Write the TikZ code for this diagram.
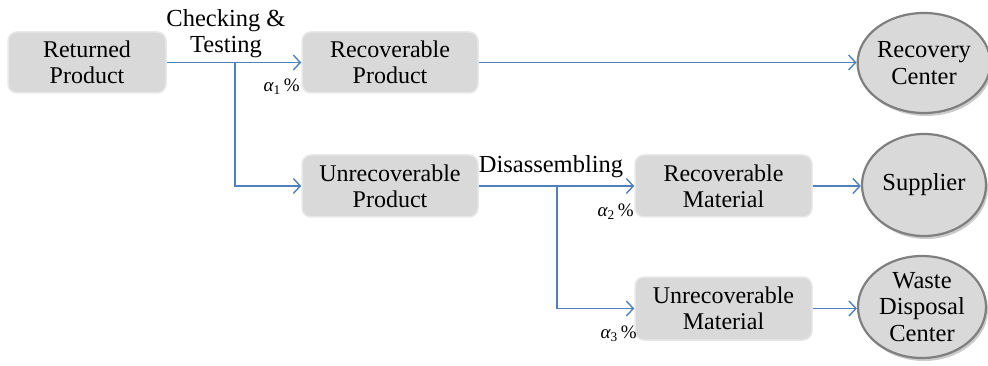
\documentclass[tikz,border=0pt]{standalone}
\usepackage{fontspec}
\setmainfont{Liberation Serif}
\usetikzlibrary{arrows.meta,shapes.geometric,shadows}
\definecolor{boxgray}{HTML}{D9D9D9}
\definecolor{rimgray}{HTML}{E8E8E8}
\definecolor{edgegray}{HTML}{7F7F7F}
\definecolor{flowblue}{HTML}{4F81BD}

\begin{document}
\begin{tikzpicture}[x=1pt,y=-1pt,
  stage/.style={rectangle, rounded corners=9pt, fill=boxgray, draw=rimgray,
    line width=1.5pt, align=center, inner sep=0pt,
    font=\fontsize{24}{26}\selectfont},
  sink/.style={ellipse, fill=boxgray, draw=edgegray, line width=2.2pt,
    align=center, inner sep=0pt, font=\fontsize{24.5}{26.5}\selectfont,
    drop shadow={shadow xshift=2pt, shadow yshift=-3pt, fill=black!45, opacity=0.45}},
  flow/.style={draw=flowblue, line width=1.4pt,
    -{Straight Barb[length=7pt,width=15pt,line width=1.4pt]}},
  steplabel/.style={inner sep=0pt, align=center, font=\fontsize{24.5}{26.5}\selectfont},
  share/.style={inner sep=0pt, font=\fontsize{19}{22}\selectfont}
]
\useasboundingbox (0,0) rectangle (988,366);

% process stages
\node[stage, minimum width=158pt, minimum height=61pt] (ret) at (87,62.5) {Returned\\Product};
\node[stage, minimum width=176pt, minimum height=61pt] (recprod) at (390,62.5) {Recoverable\\Product};
\node[stage, minimum width=176pt, minimum height=62pt] (unrecprod) at (390,186) {Unrecoverable\\Product};
\node[stage, minimum width=177pt, minimum height=62pt] (recmat) at (723.5,186) {Recoverable\\Material};
\node[stage, minimum width=177pt, minimum height=63pt] (unrecmat) at (723.5,308.5) {Unrecoverable\\Material};

% destinations
\node[sink, minimum width=124pt, minimum height=100pt] (rcenter) at (924,63) {Recovery\\Center};
\node[sink, minimum width=124pt, minimum height=102pt] (supplier) at (924,185) {Supplier};
\node[sink, minimum width=128pt, minimum height=102pt] (waste) at (922,307) {Waste\\Disposal\\Center};

% branch points
\coordinate (split1) at (235,62.5);
\coordinate (split2) at (557,186);

% flows
\draw[flow] (ret.east) -- (recprod.west);
\draw[flow] (split1) |- (unrecprod.west);
\draw[flow] (recprod.east) -- (recprod.east -| rcenter.west);
\draw[flow] (unrecprod.east) -- (recmat.west);
\draw[flow] (split2) |- (unrecmat.west);
\draw[flow] (recmat.east) -- (recmat.east -| supplier.west);
\draw[flow] (unrecmat.east) -- (unrecmat.east -| waste.west);

% operation labels
\node[steplabel, anchor=south] (chk) at (226,58) {Checking \&\\Testing};
\node[steplabel, anchor=base] (dis) at (551,173) {Disassembling};

% fractions
\node[share, anchor=south east] (a1) at (300,95) {{\itshape α}\textsubscript{1}\,\%};
\node[share, anchor=south east] (a2) at (634,220) {{\itshape α}\textsubscript{2}\,\%};
\node[share, anchor=south east] (a3) at (637,342) {{\itshape α}\textsubscript{3}\,\%};
\end{tikzpicture}
\end{document}
